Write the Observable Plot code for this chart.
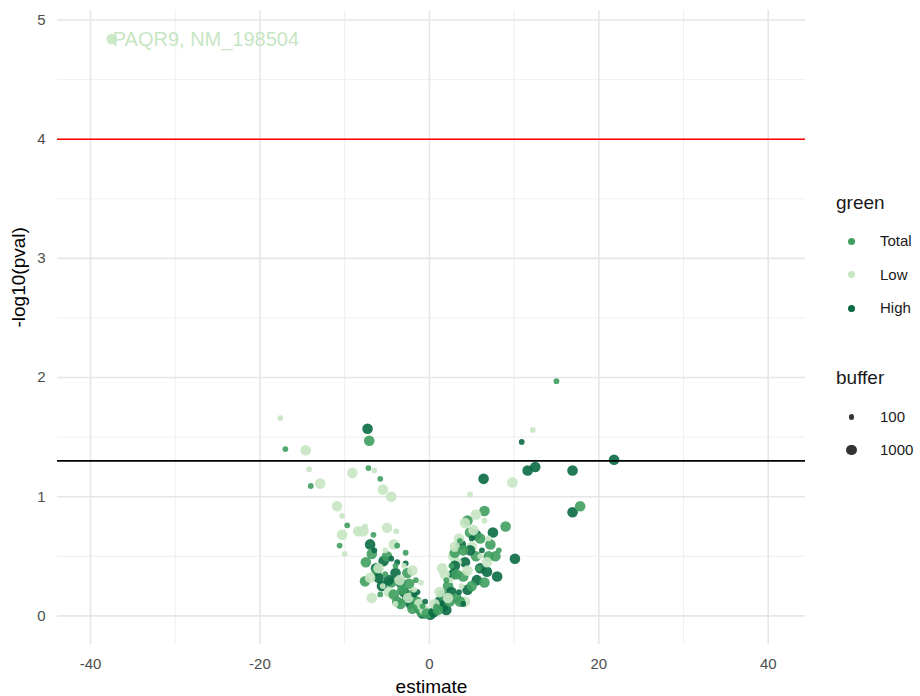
<!DOCTYPE html>
<html><head><meta charset="utf-8">
<script src="https://cdn.jsdelivr.net/npm/d3@7"></script>
<script src="https://cdn.jsdelivr.net/npm/@observablehq/plot@0.6"></script>
<style>
body{margin:0;background:#fff;font-family:"Liberation Sans",Arial,sans-serif;}
#wrap{position:relative;width:920px;height:696px;}
.lg{position:absolute;font-family:"Liberation Sans",Arial,sans-serif;color:#1a1a1a;}
</style></head>
<body><div id="wrap"></div>
<script>
// estimate, -log10(pval), buffer per group
const lowEst = [-37.5,-17.6,-14.6,-14.2,-12.9,-9.1,-6.5,-5.5,-4.5,-10.9,-10.3,-10.3,-10.0,-8.4,-7.8,-7.6,-5.0,-3.9,-4.2,-6.0,-7.0,-5.5,-4.8,-3.5,-2.5,-1.8,-1.2,-0.6,-3.0,
  -6.8,-2.0,-4.0,-1.0,-5.2,
  12.2,9.8,4.8,5.5,4.2,6.5,3.5,5.0,2.8,3.2,6.0,1.8,2.5,1.2,0.6,4.5,3.8,7.0,
  1.5,3.0,5.2,2.2,4.2,6.8];
const lowP   = [4.84,1.66,1.39,1.23,1.11,1.20,1.22,1.06,1.00,0.92,0.84,0.68,0.52,0.71,0.71,0.75,0.74,0.71,0.60,0.40,0.32,0.25,0.20,0.30,0.15,0.22,0.10,0.05,0.42,
  0.15,0.38,0.10,0.28,0.55,
  1.56,1.12,1.02,0.85,0.78,0.80,0.65,0.58,0.50,0.45,0.50,0.35,0.30,0.20,0.10,0.38,0.25,0.65,
  0.40,0.58,0.72,0.15,0.12,0.45];
const lowBuf = [1000,100,1000,100,1000,1000,100,1000,1000,1000,100,1000,100,1000,1000,100,1000,100,1000,1000,1000,100,1000,1000,1000,100,1000,1000,100,
  1000,1000,100,100,100,
  100,1000,100,1000,1000,100,1000,1000,1000,1000,100,1000,100,1000,1000,1000,100,100,
  1000,1000,1000,1000,1000,1000];

const totalEst = [-17.0,-7.1,-14.0,-7.2,-5.8,-9.7,-10.6,-6.6,-3.8,-2.8,-7.5,-7.6,-6.2,-5.2,-4.5,-3.2,-2.0,-1.5,-3.8,-0.8,-4.0,-2.6,-5.8,-1.0,
  -6.8,-5.0,-4.2,-2.4,-1.6,-3.4,-0.3,-2.0,
  15.0,17.8,9.0,6.5,4.5,7.2,3.6,5.5,7.0,2.6,4.0,2.2,1.5,3.2,0.8,5.0,6.5,8.2,3.0,
  4.8,3.2,1.0,2.4,5.8,4.0,6.0,2.0,3.6,7.8];
const totalP   = [1.40,1.47,1.09,1.24,1.15,0.76,0.59,0.68,0.59,0.53,0.45,0.29,0.38,0.35,0.28,0.22,0.18,0.12,0.12,0.08,0.42,0.36,0.18,0.04,
  0.52,0.50,0.18,0.27,0.30,0.10,0.02,0.06,
  1.97,0.92,0.75,0.88,0.80,0.60,0.63,0.50,0.50,0.42,0.33,0.25,0.18,0.15,0.08,0.25,0.28,0.55,0.53,
  0.70,0.35,0.05,0.12,0.40,0.55,0.65,0.30,0.12,0.50];
const totalBuf = [100,1000,100,100,100,100,100,100,100,100,1000,1000,1000,100,1000,1000,1000,1000,1000,100,100,1000,100,1000,
  1000,1000,1000,1000,100,1000,1000,1000,
  100,1000,1000,1000,1000,1000,100,1000,1000,100,1000,1000,1000,1000,100,1000,1000,100,1000,
  1000,1000,1000,1000,100,1000,1000,100,1000,1000];

const highEst = [-7.3,-7.0,-5.4,-6.3,-4.0,-3.4,-5.6,-2.2,-1.8,-2.8,-4.5,-3.0,-1.2,-0.5,-6.0,0.1,
  -4.8,-2.6,-6.5,-3.8,-1.4,-0.8,
  21.8,12.5,11.6,16.9,10.9,6.4,16.9,10.1,3.7,5.0,4.2,2.8,4.5,6.0,3.5,1.2,8.0,2.0,0.5,5.5,6.8,
  2.6,4.8,3.0,5.6,1.6,7.5,4.0,6.2];
const highP   = [1.57,0.60,0.46,0.40,0.36,0.28,0.25,0.10,0.18,0.44,0.48,0.20,0.06,0.12,0.32,0.01,
  0.30,0.14,0.55,0.45,0.20,0.02,
  1.31,1.25,1.22,1.22,1.46,1.15,0.87,0.48,0.60,0.65,0.45,0.35,0.22,0.40,0.20,0.12,0.33,0.05,0.03,0.68,0.37,
  0.20,0.55,0.42,0.30,0.08,0.70,0.10,0.55];
const highBuf = [1000,1000,1000,1000,1000,1000,1000,1000,100,100,100,1000,1000,100,1000,1000,
  1000,1000,100,100,100,1000,
  1000,1000,1000,1000,100,1000,1000,1000,1000,100,1000,1000,1000,1000,100,1000,1000,1000,1000,1000,1000,
  1000,1000,1000,1000,1000,1000,100,100];

const groups = ["Total","Low","High"];
const groupColors = ["#3f9f5f","#c7e6c3","#0a6a44"];
const xTicks = [-40,-20,0,20,40];
const xMinor = [-30,-10,10,30];
const yTicks = [0,1,2,3,4,5];
const yMinor = [0.5,1.5,2.5,3.5,4.5];
const redLine = 4;
const blackLine = 1.301;
const labelText = "PAQR9, NM_198504";

function rows(g, est, p, buf){ return est.map((e,i)=>({group:g, estimate:e, logp:p[i], buffer:buf[i]})); }
const low = rows("Low", lowEst, lowP, lowBuf);
const total = rows("Total", totalEst, totalP, totalBuf);
const high = rows("High", highEst, highP, highBuf);
// interleave groups so drawing order is mixed as in the original
const data = [];
const n = Math.max(low.length, total.length, high.length);
for (let i = 0; i < n; i++) { if (low[i]) data.push(low[i]); if (total[i]) data.push(total[i]); if (high[i]) data.push(high[i]); }
const labelRow = data.find(d => d.logp === d3.max(data, d => d.logp));

const plot = Plot.plot({
  width: 920, height: 696,
  marginLeft: 57, marginRight: 115, marginTop: 10, marginBottom: 52,
  style: {fontFamily: "Liberation Sans, Arial, sans-serif", background: "#fff"},
  x: {domain: [-43.9, 44.4], label: null},
  y: {domain: [-0.24, 5.08], label: null},
  color: {domain: groups, range: groupColors},
  r: {type: "linear", domain: [100, 1000], range: [2.9, 5.3]},
  marks: [
    Plot.ruleX(xMinor, {stroke: "#ebebeb", strokeWidth: 0.8}),
    Plot.ruleY(yMinor, {stroke: "#ebebeb", strokeWidth: 0.8}),
    Plot.ruleX(xTicks, {stroke: "#e6e6e6", strokeWidth: 1.6}),
    Plot.ruleY(yTicks, {stroke: "#e6e6e6", strokeWidth: 1.6}),
    Plot.axisX(xTicks, {tickSize: 0, tickPadding: 14, fontSize: 15, fill: "#4d4d4d", label: null, tickFormat: d => String(d)}),
    Plot.axisY(yTicks, {tickSize: 0, tickPadding: 12, fontSize: 15, fill: "#4d4d4d", label: null, tickFormat: d => String(d)}),
    Plot.dot(data, {x: "estimate", y: "logp", fill: "group", r: "buffer", fillOpacity: 0.9, stroke: "none"}),
    Plot.ruleY([redLine], {stroke: "#ff0000", strokeWidth: 1.6}),
    Plot.ruleY([blackLine], {stroke: "#000000", strokeWidth: 1.6}),
    Plot.text([labelRow], {x: "estimate", y: "logp", text: () => labelText, textAnchor: "start", dx: 1, fontSize: 20, fill: "#c7e6c3"}),
    Plot.text(["estimate"], {frameAnchor: "bottom", dy: 42, lineAnchor: "middle", text: d => d, fontSize: 19, fill: "#000"}),
    Plot.text(["-log10(pval)"], {frameAnchor: "left", dx: -39, rotate: -90, text: d => d, fontSize: 19, fill: "#000"})
  ]
});
const wrap = document.getElementById("wrap");
wrap.appendChild(plot);

// legend
function add(html, left, top, style){
  const d = document.createElement("div");
  d.className = "lg"; d.innerHTML = html;
  d.style.left = left + "px"; d.style.top = top + "px";
  Object.assign(d.style, style || {});
  wrap.appendChild(d);
}
add("green", 836, 192, {fontSize: "19px"});
groups.forEach((g, i) => {
  const y = 241 + i * 33.5;
  add("", 848, y - 3.5, {width: "7px", height: "7px", borderRadius: "50%", background: groupColors[i]});
  add(g, 880, y - 9, {fontSize: "15px"});
});
add("buffer", 836, 367, {fontSize: "19px"});
const bufLevels = [100, 1000];
const bufR = [2.9, 5.3];
bufLevels.forEach((b, i) => {
  const y = 417 + i * 33;
  add("", 851.5 - bufR[i], y - bufR[i], {width: 2*bufR[i] + "px", height: 2*bufR[i] + "px", borderRadius: "50%", background: "#333"});
  add(String(b), 880, y - 9, {fontSize: "15px"});
});
</script>
</body></html>
